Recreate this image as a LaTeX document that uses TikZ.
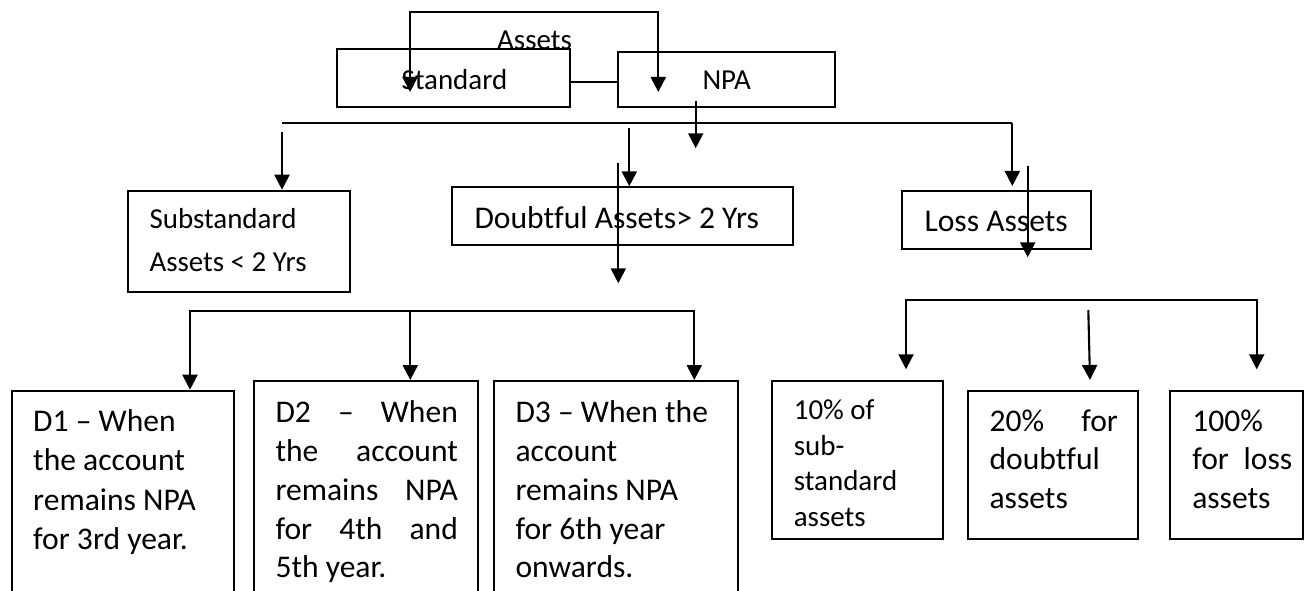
\documentclass[tikz,border=0pt]{standalone}
\usepackage{fontspec}
\setmainfont{Carlito}[Ligatures={TeX,NoCommon}]
\usetikzlibrary{arrows.meta,fit}
\begin{document}
\begin{tikzpicture}[x=0.38pt,y=-0.38pt,
  box/.style={draw, line width=0.75pt, inner sep=0pt},
  wire/.style={line width=0.8pt},
  arr/.style={line width=0.8pt, -{Triangle[width=5.7pt,length=5.7pt]}},
  arrtwo/.style={line width=0.8pt, {Triangle[width=5.7pt,length=5.7pt]}-{Triangle[width=5.7pt,length=5.7pt]}},
  lbl/.style={anchor=base west, inner sep=0pt, align=flush left, text width=150pt},
  eleven/.style={font=\fontsize{11}{#1}\selectfont},
  twelve/.style={font=\fontsize{12}{#1}\selectfont}]
\useasboundingbox (0,0) rectangle (1305,591);
\clip (0,0) rectangle (1305,591);

% top level: asset classes
\node[lbl, eleven=13pt] (tassets) at (496.7,50) {Assets};
\node[box, fit={(337,49.3) (570,107.3)}] (std) {};
\node[box, fit={(617.7,51.7) (835,107.3)}] (npa) {};
\node[lbl, eleven=13pt] (tstd) at (401,89.3) {Standard};
\node[lbl, eleven=13pt] (tnpa) at (702,89.3) {NPA};

% NPA categories
\node[box, fit={(127.7,190.7) (350,292.3)}] (sub) {};
\node[box, fit={(452.3,187.3) (792.7,245)}] (dbt) {};
\node[box, fit={(901.7,190.7) (1090.7,249)}] (loss) {};
\node[lbl, eleven=16pt] (tsub) at (149,229) {Substandard\\Assets < 2 Yrs};
\node[lbl, twelve=14.6pt] (tdbt) at (474,229) {Doubtful Assets> 2 Yrs};
\node[lbl, twelve=14.6pt] (tloss) at (924,231.7) {Loss Assets};

% doubtful sub-categories
\node[box, fit={(12,390.7) (234.3,600)}] (d1) {};
\node[box, fit={(254,381) (478.3,600)}] (d2) {};
\node[box, fit={(494.3,381) (738.3,600)}] (d3) {};
\node[lbl, twelve=14.9pt] (td1) at (32.7,431.7) {D1 – When\\the account\\remains NPA\\for 3rd year.};
\node[lbl, twelve=14.75pt] (td2) at (275,422.7)
  {\makebox[69.3pt][s]{D2 – When}\\\makebox[69.3pt][s]{the account}\\\makebox[69.3pt][s]{remains NPA}\\\makebox[69.3pt][s]{for 4th and}\\5th year.};
\node[lbl, twelve=14.75pt] (td3) at (515,422.7) {D3 – When the\\account\\remains NPA\\for 6th year\\onwards.};

% provisioning
\node[box, fit={(772,381) (942.7,539.3)}] (p10) {};
\node[box, fit={(967.7,391) (1138.3,539.3)}] (p20) {};
\node[box, fit={(1170,391) (1303,539.3)}] (p100) {};
\node[lbl, eleven=13.57pt] (tp10) at (793.3,419.3) {10\% of\\sub-\\standard\\assets};
\node[lbl, twelve=14.55pt] (tp20) at (989,431.7) {\makebox[48.8pt][s]{20\% for}\\doubtful\\assets};
\node[lbl, twelve=14.55pt] (tp100) at (1191.7,431.7) {100\%\\\makebox[38pt][s]{for loss}\\assets};

% connectors at the top
\coordinate (topl) at (410,12);
\coordinate (topr) at (658.3,12);
\draw[arrtwo] (410,92) -- (topl) -- (topr) -- (658.3,92);
\draw[wire] (std.east |- 0,81.7) -- (npa.west |- 0,81.7);
\draw[arr] (695.7,100.7) -- (695.7,148.3);

% main branch line
\coordinate (hubl) at (282,122.7);
\coordinate (hubr) at (1012.3,122.7);
\draw[wire] (hubl) -- (hubr);
\draw[arr] (hubr) -- (1012.3,186);
\draw[arr] (282,131.7) -- (282,0 |- sub.north);
\draw[arr] (629.3,128.3) -- (629.3,0 |- dbt.north);
\draw[arr] (618.3,162.7) -- (618.3,283.3);
\draw[arr] (1027.7,165.7) -- (1027.7,257.3);

% doubtful branch
\draw[arrtwo] (190,0 |- d1.north) -- (190,311) -- (694.3,311) -- (694.3,0 |- d3.north);
\draw[arr] (410.3,311) -- (410.3,0 |- d2.north);

% provisioning branch
\draw[arrtwo] (906,369.3) -- (906,300) -- (1256.7,300) -- (1256.7,369.3);
\draw[arr] (1088.3,310) -- (1090,380);
\end{tikzpicture}
\end{document}
